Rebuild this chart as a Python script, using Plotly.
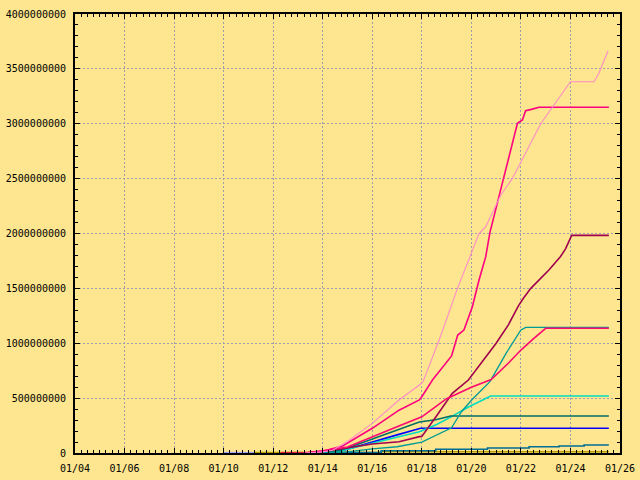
import plotly.graph_objects as go

# x values are days of January (fractional), y values in millions
x_tick_vals = [4, 6, 8, 10, 12, 14, 16, 18, 20, 22, 24, 26]
x_tick_labels = ["01/04", "01/06", "01/08", "01/10", "01/12", "01/14",
                 "01/16", "01/18", "01/20", "01/22", "01/24", "01/26"]
y_tick_vals = [0, 500000000, 1000000000, 1500000000, 2000000000,
               2500000000, 3000000000, 3500000000, 4000000000]

M = 1e6

lav_x = [10.0, 11.25]
lav_y = [3, 3]

olive_x = [11.25, 16.3, 16.35, 25.55]
olive_y = [3, 3, 12, 12]

red_x = [12.3, 13.2]
red_y = [3, 3]

step_x = [13.2, 14.6, 16.36, 18.56, 20.65, 22.33, 23.54, 24.55, 25.55]
step_y = [0, 5, 21, 34, 46, 57, 64, 73, 73]

blue_x = [13.5, 14.5, 15.0, 16.0, 17.0, 17.95, 25.55]
blue_y = [0, 10, 35, 103, 165, 225, 225]

cyan_x = [13.5, 14.5, 15.0, 16.0, 17.0, 17.9, 18.6, 19.2, 19.9, 20.78, 25.55]
cyan_y = [0, 10, 35, 88, 140, 194, 260, 331, 422, 519, 519]

dgreen_x = [13.2, 14.5, 15.0, 16.0, 17.0, 17.9, 18.56, 19.17, 25.55]
dgreen_y = [0, 15, 45, 128, 210, 283, 303, 337, 337]

teal_x = [13.5, 14.5, 15.0, 16.0, 17.0, 18.0, 19.2, 19.6, 20.04, 20.75, 21.4, 22.0, 22.2, 25.55]
teal_y = [0, 3, 10, 37, 57, 100, 230, 376, 490, 650, 908, 1121, 1145, 1145]

dmag_x = [13.5, 14.5, 16.0, 17.08, 17.9, 18.0, 18.6, 19.23, 19.88, 20.4, 21.0, 21.5,
          21.9, 22.1, 22.4, 23.13, 23.6, 23.8, 24.05, 25.55]
dmag_y = [0, 30, 82, 103, 149, 150, 340, 544, 665, 820, 1000, 1170,
          1340, 1410, 1500, 1667, 1790, 1860, 1983, 1983]

pred_x = [13.2, 14.0, 15.0, 16.0, 17.0, 18.0, 19.0, 20.0, 20.8, 21.5, 22.0, 22.5, 23.0, 25.55]
pred_y = [0, 20, 55, 150, 240, 330, 495, 600, 670, 820, 938, 1040, 1136, 1136]

dpink_x = [13.3, 14.0, 14.8, 16.0, 17.08, 17.9, 18.0, 18.43, 19.2, 19.45, 19.7, 20.04,
           20.31, 20.58, 20.75, 21.12, 21.52, 21.86, 22.06, 22.19, 22.42, 22.73, 25.55]
dpink_y = [0, 15, 64, 225, 390, 483, 513, 665, 884, 1075, 1120, 1333,
           1576, 1789, 2010, 2351, 2700, 3004, 3034, 3119, 3131, 3150, 3150]

lpink_x = [13.3, 14.0, 14.4, 15.0, 16.0, 17.08, 17.9, 18.05, 18.7, 19.44, 20.31, 20.58,
           21.19, 21.65, 22.8, 24.0, 24.95, 25.15, 25.31, 25.52]
lpink_y = [0, 10, 25, 105, 270, 483, 620, 650, 1030, 1500, 2000, 2062,
           2351, 2500, 3000, 3383, 3383, 3460, 3551, 3665]

series = [
    ("lavender", lav_x, lav_y, "#9C9CF0", 1.6, "linear"),
    ("olive", olive_x, olive_y, "#B89C00", 1.6, "linear"),
    ("red", red_x, red_y, "#E0203C", 1.6, "linear"),
    ("steps", step_x, step_y, "#006E96", 1.6, "hv"),
    ("blue", blue_x, blue_y, "#0000FF", 1.6, "linear"),
    ("cyan", cyan_x, cyan_y, "#00DCC0", 1.6, "linear"),
    ("dgreen", dgreen_x, dgreen_y, "#006E64", 1.6, "linear"),
    ("teal", teal_x, teal_y, "#009A96", 1.3, "linear"),
    ("dmag", dmag_x, dmag_y, "#A0004E", 1.6, "linear"),
    ("pred", pred_x, pred_y, "#FF0870", 1.6, "linear"),
    ("dpink", dpink_x, dpink_y, "#FF0080", 1.6, "linear"),
    ("lpink", lpink_x, lpink_y, "#FF8CC8", 1.1, "linear"),
]

fig = go.Figure()
for name, xs, ys, color, w, shape in series:
    fig.add_trace(go.Scatter(
        x=xs, y=[v * M for v in ys], mode="lines", name=name,
        line=dict(color=color, width=w, shape=shape), hoverinfo="skip"))

bg = "#FDE68F"
grid = "#9E9EAA"
fig.update_layout(
    width=640, height=480, autosize=False,
    paper_bgcolor=bg, plot_bgcolor=bg,
    margin=dict(l=75, r=20, t=14, b=27),
    showlegend=False,
    font=dict(family="DejaVu Sans Mono", size=10, color="#000000"),
)
fig.update_xaxes(
    range=[4, 26], tickmode="array", tickvals=x_tick_vals, ticktext=x_tick_labels,
    automargin=False, ticklabelstandoff=5,
    showgrid=True, gridcolor=grid, gridwidth=1, griddash="2px,2px",
    showline=True, linecolor="#000000", linewidth=2, mirror="ticks",
    ticks="inside", ticklen=5, tickcolor="#000000", tickwidth=1,
    zeroline=False,
    minor=dict(dtick=0.25, tick0=4, ticks="inside", ticklen=3,
               tickcolor="#000000", tickwidth=1, showgrid=False),
)
fig.update_yaxes(
    range=[0, 4e9], tickmode="array", tickvals=y_tick_vals, tickformat="d",
    automargin=False, ticklabelstandoff=5,
    showgrid=True, gridcolor=grid, gridwidth=1, griddash="2px,2px",
    showline=True, linecolor="#000000", linewidth=2, mirror="ticks",
    ticks="inside", ticklen=5, tickcolor="#000000", tickwidth=1,
    zeroline=False,
    minor=dict(dtick=1e8, tick0=0, ticks="inside", ticklen=3,
               tickcolor="#000000", tickwidth=1, showgrid=False),
)

fig.write_html(
    "out.html",
    config={"displayModeBar": False},
    post_script="document.body.style.margin='0';document.body.style.background='#FDE68F';",
)
